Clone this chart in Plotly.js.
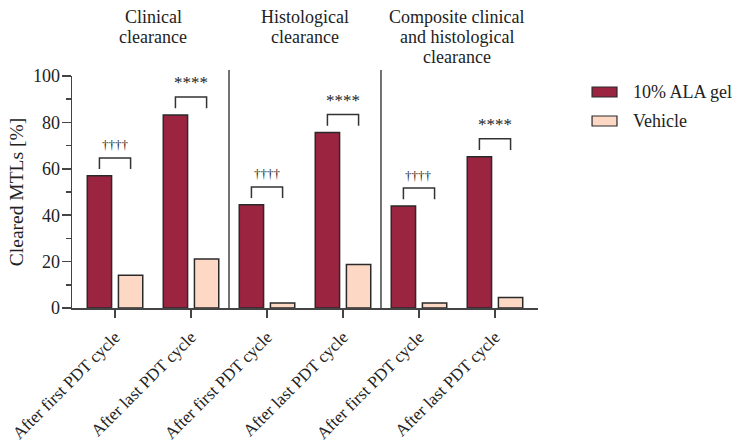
<!DOCTYPE html>
<html>
<head>
<meta charset="utf-8">
<script src="https://cdn.plot.ly/plotly-3.0.1.min.js"></script>
<style>html,body{margin:0;padding:0;background:#fff;}#chart{width:738px;height:442px;}</style>
</head>
<body>
<div id="chart"></div>
<script>
// ---- data ----
const groupTitles = [['Clinical', 'clearance'], ['Histological', 'clearance'], ['Composite clinical', 'and histological', 'clearance']];
const timepoints = ['After first PDT cycle', 'After last PDT cycle', 'After first PDT cycle', 'After last PDT cycle', 'After first PDT cycle', 'After last PDT cycle'];
const alaValues = [57.0, 83.2, 44.5, 75.7, 44.0, 65.2];
const vehicleValues = [14.1, 21.1, 2.2, 18.8, 2.2, 4.5];
const sigLabels = ['††††', '****', '††††', '****', '††††', '****'];
const seriesNames = ['10% ALA gel', 'Vehicle'];
const yTicks = [0, 20, 40, 60, 80, 100];

// ---- styling ----
const FONT = '"Liberation Serif", "Times New Roman", Times, serif';
const TXT = '#222';
const AXC = '#444';
const ALA_COLOR = '#9b2440';
const VEH_COLOR = '#fdd9c5';
const BAR_LINE = '#2a2a2a';
const BW = 0.32;
const xIdx = timepoints.map((_, i) => i);

const traces = [
  {type: 'bar', name: seriesNames[0], x: xIdx, y: alaValues, width: BW, offset: -0.365,
   marker: {color: ALA_COLOR, line: {color: BAR_LINE, width: 1.5}}, showlegend: false, hoverinfo: 'none'},
  {type: 'bar', name: seriesNames[1], x: xIdx, y: vehicleValues, width: BW, offset: 0.045,
   marker: {color: VEH_COLOR, line: {color: BAR_LINE, width: 1.5}}, showlegend: false, hoverinfo: 'none'}
];

const shapes = [];
const annotations = [];

// separators between groups
[1.5, 3.5].forEach(xs => {
  shapes.push({type: 'line', xref: 'x', yref: 'paper', x0: xs, x1: xs, y0: 0, y1: 1.026,
    line: {color: AXC, width: 1.5}});
});

// significance brackets
const cA = -0.365 + BW / 2, cV = 0.045 + BW / 2;
xIdx.forEach(i => {
  const top = alaValues[i] + 7.7;
  const leg = top - 4.8;
  shapes.push({type: 'path', xref: 'x', yref: 'y',
    path: `M ${i + cA} ${leg} L ${i + cA} ${top} L ${i + cV} ${top} L ${i + cV} ${leg}`,
    line: {color: '#333', width: 1.5}});
  const isStar = sigLabels[i].indexOf('*') >= 0;
  annotations.push({xref: 'x', yref: 'y', x: i, y: top + (isStar ? 6.2 : 5.6), text: sigLabels[i],
    showarrow: false, xanchor: 'center', yanchor: 'middle',
    font: {family: FONT, size: isStar ? 17 : 13, color: TXT}});
});

// group titles (one annotation per line)
const lineY = [1.2543, 1.168, 1.0819];
groupTitles.forEach((lines, g) => {
  lines.forEach((t, k) => {
    annotations.push({xref: 'x', yref: 'paper', x: 2 * g + 0.5, y: lineY[k], text: t,
      showarrow: false, xanchor: 'center', yanchor: 'middle',
      font: {family: FONT, size: 18, color: TXT}});
  });
});

// manual legend
const legendCols = [ALA_COLOR, VEH_COLOR];
const legendY = [0.931, 0.806];
seriesNames.forEach((n, k) => {
  shapes.push({type: 'rect', xref: 'paper', yref: 'paper', x0: 1.116, x1: 1.1695,
    y0: legendY[k] - 0.0215, y1: legendY[k] + 0.0215,
    fillcolor: legendCols[k], line: {color: BAR_LINE, width: 1.2}});
  annotations.push({xref: 'paper', yref: 'paper', x: 1.2, y: legendY[k], text: n,
    showarrow: false, xanchor: 'left', yanchor: 'middle',
    font: {family: FONT, size: 18, color: TXT}});
});

const layout = {
  width: 738, height: 442,
  margin: {l: 72, r: 200, t: 76, b: 134, pad: 0},
  paper_bgcolor: '#fff', plot_bgcolor: '#fff',
  barmode: 'overlay',
  font: {family: FONT, size: 18, color: TXT},
  xaxis: {
    range: [-0.566, 5.566], tickmode: 'array', tickvals: xIdx, ticktext: timepoints,
    tickangle: -45, ticks: 'outside', ticklen: 8, tickwidth: 1.5, tickcolor: AXC,
    ticklabelstandoff: 3,
    showline: true, linecolor: AXC, linewidth: 1.5, showgrid: false, zeroline: false,
    tickfont: {family: FONT, size: 17, color: TXT}
  },
  yaxis: {
    range: [0, 100], tickmode: 'array', tickvals: yTicks, ticks: 'outside', ticklen: 9,
    tickwidth: 1.5, tickcolor: AXC, showline: true, linecolor: AXC, linewidth: 1.5,
    showgrid: false, zeroline: false, ticklabelstandoff: -2,
    minor: {dtick: 10, ticks: 'outside', ticklen: 5, tickwidth: 1.5, tickcolor: AXC, showgrid: false},
    tickfont: {family: FONT, size: 18, color: TXT},
    title: {text: 'Cleared MTLs [%]', standoff: 4, font: {family: FONT, size: 19.5, color: TXT}}
  },
  shapes: shapes,
  annotations: annotations,
  showlegend: false
};

Plotly.newPlot('chart', traces, layout, {staticPlot: true, displayModeBar: false});
</script>
</body>
</html>
